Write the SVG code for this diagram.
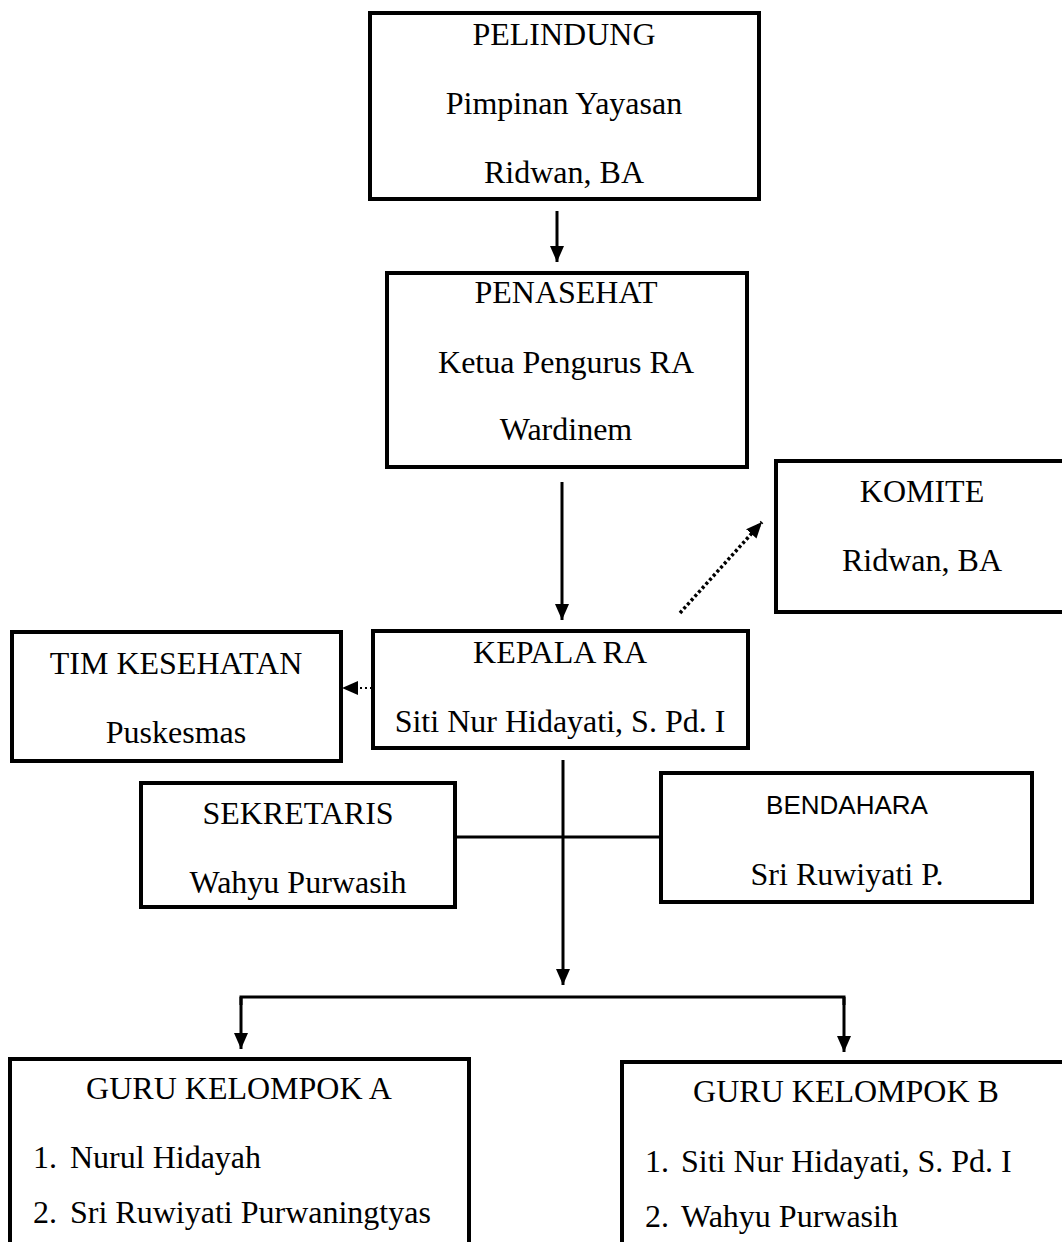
<svg xmlns="http://www.w3.org/2000/svg" width="1062" height="1242" viewBox="0 0 1062 1242">
<style>
  .box { fill: #ffffff; stroke: #000000; stroke-width: 4; }
  .t { font-family: "Liberation Serif", "Times New Roman", serif; font-size: 32px; fill: #000000; }
  .c { text-anchor: middle; }
  .s { font-family: "Liberation Sans", Arial, sans-serif; font-size: 26px; fill: #000000; text-anchor: middle; }
  .ln { fill: none; stroke: #000000; stroke-width: 3; }
  .dot { fill: none; stroke: #000000; stroke-width: 3.5; stroke-dasharray: 3 2.5; }
  .dot2 { fill: none; stroke: #000000; stroke-width: 2; stroke-dasharray: 2 3; }
</style>
<defs>
  <marker id="ah" viewBox="0 0 16 14" refX="16" refY="7" markerWidth="16" markerHeight="14" markerUnits="userSpaceOnUse" orient="auto">
    <path d="M0,0 L16,7 L0,14 z" fill="#000000"/>
  </marker>
</defs>
<rect x="0" y="0" width="1062" height="1242" fill="#ffffff"/>

<g id="connectors">
  <line class="ln" x1="557" y1="211" x2="557" y2="262" marker-end="url(#ah)"/>
  <line class="ln" x1="562" y1="482" x2="562" y2="620" marker-end="url(#ah)"/>
  <line class="dot" x1="680" y1="613" x2="762" y2="522" marker-end="url(#ah)"/>
  <line class="dot2" x1="372" y1="688" x2="342" y2="688" marker-end="url(#ah)"/>
  <line class="ln" x1="563" y1="760" x2="563" y2="985" marker-end="url(#ah)"/>
  <line class="ln" x1="455" y1="837" x2="661" y2="837"/>
  <polyline class="ln" points="241,1005 241,997 844,997 844,1005"/>
  <line class="ln" x1="241" y1="997" x2="241" y2="1049" marker-end="url(#ah)"/>
  <line class="ln" x1="844" y1="997" x2="844" y2="1052" marker-end="url(#ah)"/>
</g>

<g id="pelindung">
  <rect class="box" x="370" y="13" width="389" height="186"/>
  <text class="t c" x="564" y="45">PELINDUNG</text>
  <text class="t c" x="564" y="114">Pimpinan Yayasan</text>
  <text class="t c" x="564" y="183">Ridwan, BA</text>
</g>

<g id="penasehat">
  <rect class="box" x="387" y="273" width="360" height="194"/>
  <text class="t c" x="566" y="303">PENASEHAT</text>
  <text class="t c" x="566" y="373">Ketua Pengurus RA</text>
  <text class="t c" x="566" y="440">Wardinem</text>
</g>

<g id="komite">
  <rect class="box" x="776" y="461" width="292" height="151"/>
  <text class="t c" x="922" y="502">KOMITE</text>
  <text class="t c" x="922" y="571">Ridwan, BA</text>
</g>

<g id="kepala">
  <rect class="box" x="373" y="631" width="375" height="117"/>
  <text class="t c" x="560" y="663">KEPALA RA</text>
  <text class="t c" x="560" y="732">Siti Nur Hidayati, S. Pd. I</text>
</g>

<g id="tim-kesehatan">
  <rect class="box" x="12" y="632" width="329" height="129"/>
  <text class="t c" x="176" y="674">TIM KESEHATAN</text>
  <text class="t c" x="176" y="743">Puskesmas</text>
</g>

<g id="sekretaris">
  <rect class="box" x="141" y="783" width="314" height="124"/>
  <text class="t c" x="298" y="824">SEKRETARIS</text>
  <text class="t c" x="298" y="893">Wahyu Purwasih</text>
</g>

<g id="bendahara">
  <rect class="box" x="661" y="773" width="371" height="129"/>
  <text class="s" x="847" y="814">BENDAHARA</text>
  <text class="t c" x="847" y="885">Sri Ruwiyati P.</text>
</g>

<g id="guru-a">
  <rect class="box" x="10" y="1059" width="459" height="200"/>
  <text class="t c" x="239" y="1099">GURU KELOMPOK A</text>
  <text class="t" x="33" y="1168">1.</text>
  <text class="t" x="70" y="1168">Nurul Hidayah</text>
  <text class="t" x="33" y="1223">2.</text>
  <text class="t" x="70" y="1223">Sri Ruwiyati Purwaningtyas</text>
</g>

<g id="guru-b">
  <rect class="box" x="622" y="1062" width="446" height="200"/>
  <text class="t c" x="846" y="1102">GURU KELOMPOK B</text>
  <text class="t" x="645" y="1172">1.</text>
  <text class="t" x="681" y="1172">Siti Nur Hidayati, S. Pd. I</text>
  <text class="t" x="645" y="1227">2.</text>
  <text class="t" x="681" y="1227">Wahyu Purwasih</text>
</g>
</svg>
